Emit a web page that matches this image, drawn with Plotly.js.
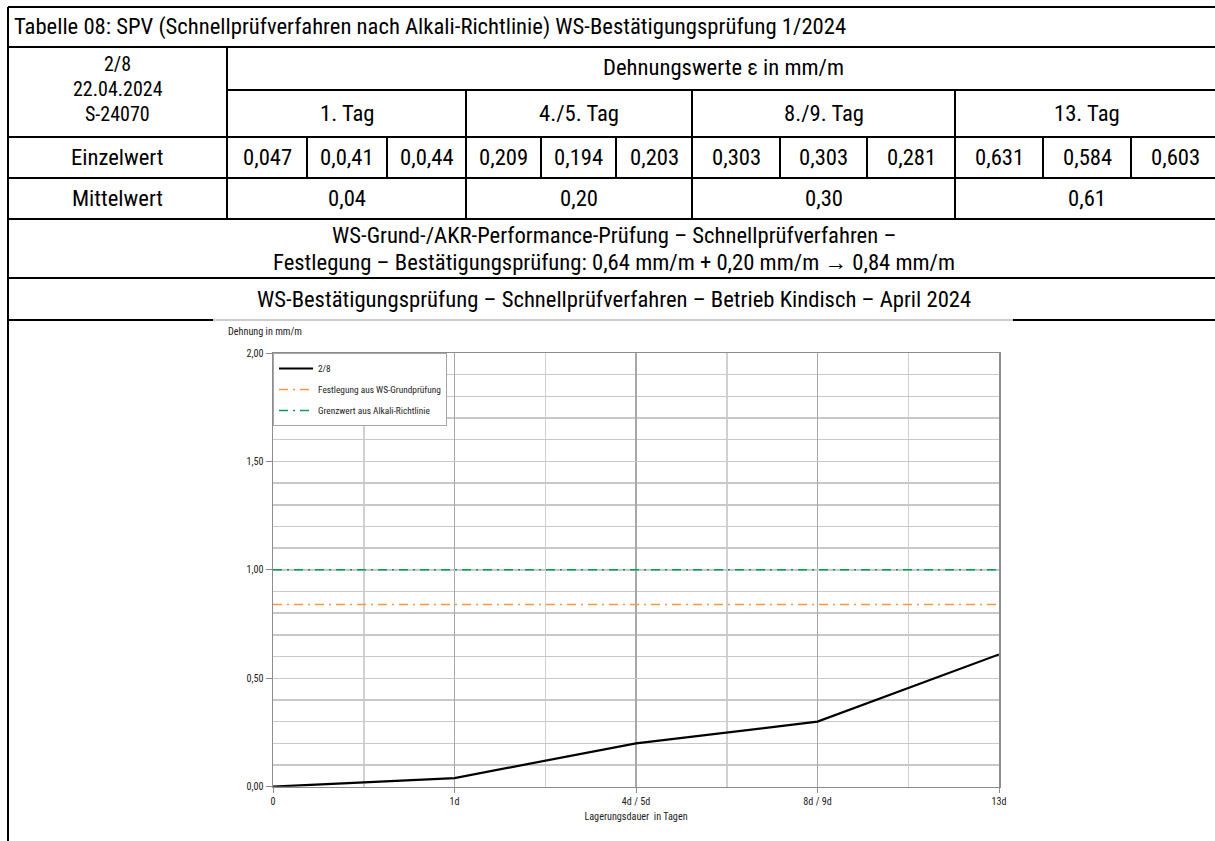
<!DOCTYPE html>
<html>
<head>
<meta charset="utf-8">
<script src="https://cdn.plot.ly/plotly-3.0.1.min.js"></script>
<style>html,body{margin:0;padding:0;background:#fff;}#chart{width:1215px;height:841px;}</style>
</head>
<body>
<div id="chart"></div>
<script>
// ---------- data ----------
const tableTitle = "Tabelle 08: SPV (Schnellprüfverfahren nach Alkali-Richtlinie) WS-Bestätigungsprüfung 1/2024";
const probeInfo = ["2/8", "22.04.2024", "S-24070"];
const headerTop = "Dehnungswerte \u03b5 in mm/m";
const dayHeaders = ["1. Tag", "4./5. Tag", "8./9. Tag", "13. Tag"];
const rowLabels = ["Einzelwert", "Mittelwert"];
const einzelwerte = ["0,047", "0,0,41", "0,0,44", "0,209", "0,194", "0,203", "0,303", "0,303", "0,281", "0,631", "0,584", "0,603"];
const mittelwerteText = ["0,04", "0,20", "0,30", "0,61"];
const noteLines = ["WS-Grund-/AKR-Performance-Prüfung \u2013 Schnellprüfverfahren \u2013",
                   "Festlegung \u2013 Bestätigungsprüfung: 0,64 mm/m + 0,20 mm/m \u2192 0,84 mm/m"];
const chartCaption = "WS-Bestätigungsprüfung \u2013 Schnellprüfverfahren \u2013 Betrieb Kindisch \u2013 April 2024";

const xCategories = ["0", "1d", "4d / 5d", "8d / 9d", "13d"];
const series28 = [0.00, 0.04, 0.20, 0.30, 0.61];
const festlegung = [0.84, 0.84, 0.84, 0.84, 0.84];
const grenzwert = [1.00, 1.00, 1.00, 1.00, 1.00];
const seriesNames = ["2/8", "Festlegung aus WS-Grundprüfung", "Grenzwert aus Alkali-Richtlinie"];
const yAxisTitle = "Dehnung in mm/m";
const xAxisTitle = "Lagerungsdauer  in Tagen";

// ---------- font selection (narrow face if installed) ----------
const ctx = document.createElement("canvas").getContext("2d");
function fontExists(f) {
  const s = "abcdefghijklmnopqrstuvwxyz ABCDEFGHIJKLM 0123456789";
  let diff = false;
  ["monospace", "serif"].forEach(base => {
    ctx.font = "72px " + base; const a = ctx.measureText(s).width;
    ctx.font = '72px "' + f + '", ' + base; const b = ctx.measureText(s).width;
    if (Math.abs(a - b) > 0.5) diff = true;
  });
  return diff;
}
const candidates = ["Liberation Sans Narrow", "Arial Narrow", "Roboto Condensed", "Noto Sans Condensed",
                    "Open Sans Condensed", "DejaVu Sans Condensed", "Liberation Sans"];
const narrow = candidates.find(fontExists) || "sans-serif";
const FF = '"' + narrow + '", sans-serif';
function sizeFor(text, targetWidth) {
  ctx.font = '100px ' + FF;
  return 100 * targetWidth / ctx.measureText(text).width;
}

// ---------- layout geometry (pixels) ----------
const W = 1215, H = 841;
const px = x => x / W;
const py = y => 1 - y / H;
const colX = [8, 227, 307, 387, 466, 541, 616, 692, 780, 867, 955, 1043, 1131, 1219];
const rowY = [7, 47, 90, 137, 178, 219, 278, 320];
const tSize = Math.max(18, Math.min(23, sizeFor(tableTitle, 833)));
const tFont = {family: FF, size: tSize, color: "#000"};
const probeFont = {family: FF, size: Math.min(tSize, 20), color: "#000"};

const shapes = [];
function hline(y, x0, x1, color, w) {
  shapes.push({type: "line", xref: "paper", yref: "paper", x0: px(x0), x1: px(x1), y0: py(y), y1: py(y),
               line: {color: color || "#000", width: w || 2}});
}
function vline(x, y0, y1, color, w) {
  shapes.push({type: "line", xref: "paper", yref: "paper", x0: px(x), x1: px(x), y0: py(y0), y1: py(y1),
               line: {color: color || "#000", width: w || 2}});
}
hline(rowY[0], colX[0], 1225);
hline(rowY[1], colX[0], 1225);
hline(rowY[2], colX[1], 1225);
for (let i = 3; i <= 6; i++) hline(rowY[i], colX[0], 1225);
hline(rowY[7], colX[0], 213);
hline(rowY[7], 213, 1013, "#9a9a9a", 1);
hline(rowY[7], 1013, 1225);
vline(colX[0], rowY[0], 845);
vline(colX[1], rowY[1], rowY[5]);
[4, 7, 10].forEach(i => vline(colX[i], rowY[2], rowY[5]));
[2, 3, 5, 6, 8, 9, 11, 12].forEach(i => vline(colX[i], rowY[3], rowY[4]));

const ann = [];
function txt(text, x, y, anchor, font) {
  ann.push({text: text, xref: "paper", yref: "paper", x: px(x), y: py(y), xanchor: anchor || "center",
            yanchor: "middle", showarrow: false, font: font || tFont});
}
txt(tableTitle, 12, 27, "left");
const probeY = [64, 89, 114];
probeInfo.forEach((t, i) => txt(t, (colX[0] + colX[1]) / 2, probeY[i], "center", probeFont));
txt(headerTop, (colX[1] + colX[13]) / 2, 68);
const dayCols = [1, 4, 7, 10, 13];
dayHeaders.forEach((t, i) => txt(t, (colX[dayCols[i]] + colX[dayCols[i + 1]]) / 2, 114));
txt(rowLabels[0], (colX[0] + colX[1]) / 2, 157.5);
txt(rowLabels[1], (colX[0] + colX[1]) / 2, 198.5);
einzelwerte.forEach((t, i) => txt(t, (colX[i + 1] + colX[i + 2]) / 2, 157.5));
mittelwerteText.forEach((t, i) => txt(t, (colX[dayCols[i]] + colX[dayCols[i + 1]]) / 2, 198.5));
txt(noteLines[0], (colX[0] + colX[13]) / 2, 235);
txt(noteLines[1], (colX[0] + colX[13]) / 2, 262.5);
txt(chartCaption, (colX[0] + colX[13]) / 2, 299.5);

// chart text sizes matched to reference text widths
const axTitleSize = Math.min(11.5, sizeFor(yAxisTitle, 74));
const tickSize = Math.min(11, sizeFor("2,00", 17));
const legSize = Math.min(10, sizeFor(seriesNames[1], 123));
ann.push({text: yAxisTitle, xref: "paper", yref: "paper", x: px(226), y: py(332), xanchor: "left", yanchor: "middle",
          showarrow: false, font: {family: FF, size: axTitleSize, color: "#222"}});

// ---------- plot ----------
const xIdx = xCategories.map((c, i) => i);
const plotL = 273, plotR = 999, plotT = 353, plotB = 786.7;

const traces = [
  {x: xIdx, y: series28, name: seriesNames[0], type: "scatter", mode: "lines", legendgroup: "a",
   line: {color: "#000000", width: 2.2}},
  {x: xIdx, y: festlegung, name: seriesNames[1], type: "scatter", mode: "lines", legendgroup: "b",
   line: {color: "#F79646", width: 1.5, dash: "9px,5px,2px,5px"}},
  {x: xIdx, y: grenzwert, name: seriesNames[2], type: "scatter", mode: "lines", legendgroup: "c",
   line: {color: "#00A050", width: 1.5, dash: "9px,5px,2px,5px"}}
];

const layout = {
  width: W, height: H,
  margin: {l: 0, r: 0, t: 0, b: 0, pad: 0},
  paper_bgcolor: "#fff", plot_bgcolor: "#fff",
  separators: ",.",
  showlegend: true,
  legend: {x: px(plotL), y: py(plotT), xanchor: "left", yanchor: "top",
           bgcolor: "#fff", bordercolor: "#a6a6a6", borderwidth: 1,
           font: {family: FF, size: legSize, color: "#222"}, itemwidth: 34,
           traceorder: "grouped", tracegroupgap: 2},
  xaxis: {domain: [px(plotL), px(plotR)], range: [0, xCategories.length - 1], automargin: false,
          tickmode: "array", tickvals: xIdx, ticktext: xCategories,
          showgrid: true, gridcolor: "#a8a8a8", gridwidth: 1.5,
          minor: {tickmode: "linear", tick0: 0.5, dtick: 1, showgrid: true, gridcolor: "#d0d0d0", gridwidth: 1.5, ticks: ""},
          showline: true, linecolor: "#8c8c8c", linewidth: 1.5, mirror: true,
          ticks: "outside", ticklen: 5, tickcolor: "#8c8c8c", zeroline: false,
          tickfont: {family: FF, size: tickSize, color: "#222"},
          title: {text: xAxisTitle, font: {family: FF, size: axTitleSize, color: "#222"}, standoff: 6}},
  yaxis: {domain: [py(plotB), py(plotT)], range: [0, 2], automargin: false,
          tickmode: "linear", tick0: 0, dtick: 0.5, tickformat: ".2f",
          showgrid: true, gridcolor: "#c8c8c8", gridwidth: 1.5,
          minor: {tickmode: "linear", tick0: 0, dtick: 0.1, showgrid: true, gridcolor: "#c8c8c8", gridwidth: 1.5, ticks: ""},
          showline: true, linecolor: "#8c8c8c", linewidth: 1.5, mirror: true,
          ticks: "outside", ticklen: 6, tickcolor: "#8c8c8c", zeroline: false,
          tickfont: {family: FF, size: tickSize, color: "#222"}},
  shapes: shapes,
  annotations: ann
};

Plotly.newPlot("chart", traces, layout, {displayModeBar: false, staticPlot: true});
</script>
</body>
</html>
